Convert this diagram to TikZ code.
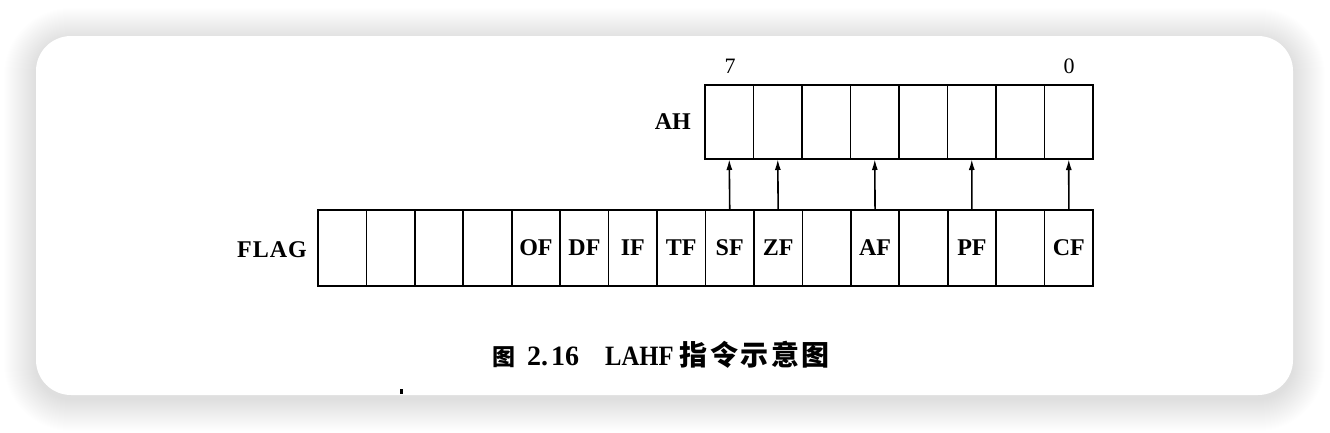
\documentclass[tikz,border=0pt]{standalone}
\usepackage{fontspec}
\usepackage{graphicx}
\setmainfont{Liberation Serif}
\newfontfamily\cjk{Noto Sans CJK SC}
\usetikzlibrary{arrows.meta}
\tikzset{
  cellbox/.style={draw=black,line width=1.7pt,inner sep=0pt,outer sep=0pt,minimum width=48.44pt,font=\fontsize{24}{27}\selectfont\bfseries},
  flagcell/.style={cellbox,minimum height=76pt},
  ahcell/.style={cellbox,minimum height=74pt},
  regname/.style={font=\fontsize{24}{28}\selectfont\bfseries,inner sep=0pt,anchor=east},
  bitnum/.style={font=\fontsize{22}{24}\selectfont,inner sep=0pt},
  transfer/.style={line width=1.6pt,-{Latex[length=11pt,width=6pt]}},
  captext/.style={inner sep=0pt,font=\fontsize{28}{30}\selectfont\bfseries}
}
\begin{document}
\begin{tikzpicture}[x=1pt,y=-1pt]
\useasboundingbox (0,0) rectangle (1330,432);
\fill[white] (0,0) rectangle (1330,432);
% soft shadow of the card
\foreach \k in {1,...,32}{
  \fill[black,opacity=0.0038,rounded corners={35pt+\k pt}]
    ({36-\k},{40-\k}) rectangle ({1293+\k},{399+\k});
}
\fill[white,rounded corners=35pt] (36,36) rectangle (1293,395);
% FLAG register
\foreach \i/\t in {0/,1/,2/,3/,4/OF,5/DF,6/IF,7/TF,8/SF,9/ZF,10/,11/AF,12/,13/PF,14/,15/CF}{
  \node[flagcell] (f\i) at ({342.22+\i*48.44},248) {\t};
}
% AH register
\foreach \j in {0,...,7}{
  \node[ahcell] (a\j) at ({729.25+\j*48.5},122) {};
}
\node[regname] (flaglbl) at (307,250) {F\kern1pt L\kern1pt A\kern1pt G};
\node[regname] (ahlbl) at (691,122) {AH};
\node[bitnum] (b7) at (730,66) {7};
\node[bitnum] (b0) at (1069,66) {0};
% transfers
\draw[transfer] (f8.north) -- (a0.south);
\draw[transfer] (f9.north) -- (a1.south);
\draw[transfer] (f11.north) -- (a3.south);
\draw[transfer] (f13.north) -- (a5.south);
\draw[transfer] (f15.north) -- (a7.south);
% caption
\node[captext,anchor=west] (cap) at (492,355)
  {{\cjk\fontsize{23}{26}\selectfont 图}\hspace{12pt}2.\hspace{3pt}16\hspace{26pt}\scalebox{0.88}[1]{LAHF}\hspace{6pt}{\cjk 指\hspace{2.5pt}令\hspace{2.5pt}示\hspace{2.5pt}意\hspace{2.5pt}图}};
% stray mark
\fill[black] (399.5,388.5) rectangle (402.5,394);
\end{tikzpicture}
\end{document}
